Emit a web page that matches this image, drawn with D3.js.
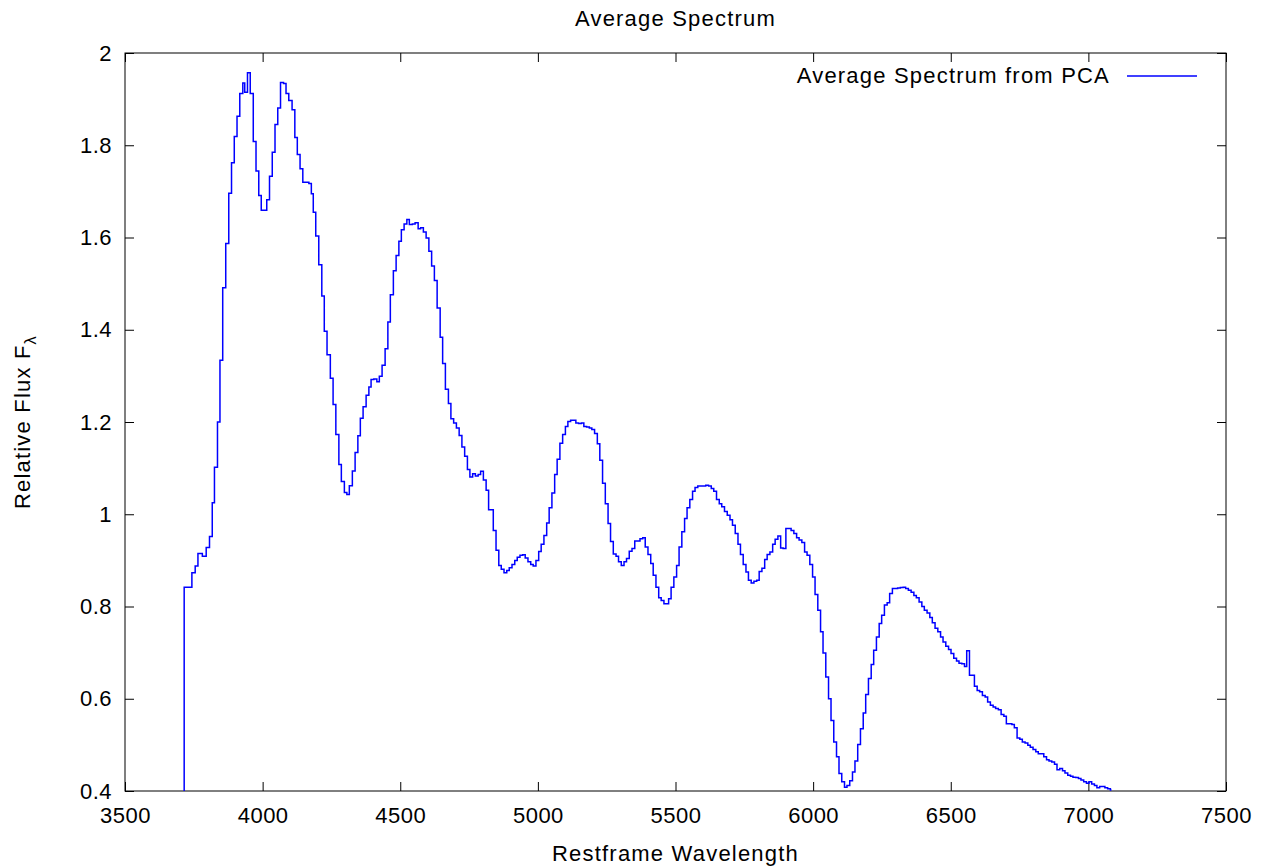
<!DOCTYPE html>
<html>
<head>
<meta charset="utf-8">
<script src="https://cdn.jsdelivr.net/npm/d3@7"></script>
<style>
  body { margin: 0; background: #fff; }
  text { font-family: "Liberation Sans", Arial, sans-serif; fill: #000; }
</style>
</head>
<body>
<script>
// bin start wavelengths (Angstrom)
var wavelength = [3715,3743,3755,3765,3781,3795,3807,3817,3825,3836,3845,3855,3866,3877,3887,3897,3907,3917,3928,3935,
  3945,3955,3966,3976,3986,3995,4015,4025,4035,4045,4055,4065,4076,4085,4095,4107,4117,4126,4136,4146,
  4168,4177,4184,4193,4204,4215,4224,4234,4246,4256,4266,4277,4286,4297,4306,4315,4326,4336,4346,4355,
  4365,4376,4386,4394,4404,4415,4424,4434,4445,4455,4464,4475,4485,4495,4504,4514,4524,4533,4544,4554,
  4565,4574,4584,4594,4604,4614,4624,4634,4645,4654,4664,4675,4684,4694,4704,4714,4724,4734,4744,4753,
  4763,4773,4783,4792,4802,4812,4821,4838,4848,4858,4867,4877,4887,4896,4906,4916,4925,4935,4945,4954,
  4964,4974,4983,4993,5003,5012,5022,5032,5041,5051,5061,5070,5080,5090,5100,5109,5119,5128,5138,5148,
  5158,5167,5177,5187,5196,5206,5216,5225,5235,5245,5255,5264,5274,5284,5293,5303,5313,5322,5332,5342,
  5352,5361,5371,5381,5390,5400,5410,5419,5429,5439,5448,5458,5475,5484,5494,5504,5513,5523,5533,5542,
  5552,5562,5571,5581,5591,5601,5610,5620,5630,5639,5649,5659,5668,5678,5688,5698,5707,5717,5727,5736,
  5746,5756,5765,5775,5785,5795,5804,5814,5824,5833,5843,5853,5862,5872,5882,5891,5901,5911,5920,5930,
  5940,5949,5959,5969,5978,5988,5998,6007,6017,6027,6036,6046,6056,6065,6075,6085,6094,6104,6114,6123,
  6133,6143,6152,6162,6172,6182,6191,6201,6211,6220,6230,6240,6249,6259,6269,6278,6288,6298,6307,6317,
  6327,6336,6346,6356,6366,6375,6385,6395,6404,6414,6424,6433,6443,6453,6463,6472,6482,6492,6501,6511,
  6521,6530,6540,6550,6558,6568,6578,6586,6596,6605,6615,6625,6634,6644,6654,6663,6673,6683,6693,6702,
  6712,6722,6731,6741,6751,6760,6770,6780,6789,6799,6809,6818,6828,6838,6848,6857,6867,6877,6886,6896,
  6906,6915,6925,6935,6944,6954,6964,6973,6983,6993,7002,7012,7022,7031,7041,7051,7060,7070,7080];
var lastEdge = 7084;

// relative flux for each bin
var flux = [0.842,0.873,0.888,0.915,0.909,0.928,0.952,1.025,1.102,1.200,1.334,1.491,1.587,1.696,1.762,1.819,1.863,1.912,1.935,1.915,
  1.957,1.912,1.808,1.744,1.691,1.659,1.682,1.733,1.785,1.845,1.881,1.936,1.934,1.912,1.897,1.877,1.817,1.780,1.749,1.720,
  1.717,1.695,1.655,1.603,1.541,1.473,1.397,1.346,1.295,1.238,1.173,1.108,1.071,1.047,1.043,1.062,1.094,1.134,1.170,1.208,
  1.233,1.258,1.276,1.292,1.293,1.287,1.299,1.323,1.359,1.417,1.476,1.528,1.561,1.592,1.617,1.629,1.639,1.628,1.629,1.632,
  1.619,1.621,1.612,1.599,1.570,1.538,1.507,1.447,1.384,1.327,1.271,1.240,1.207,1.198,1.187,1.171,1.146,1.126,1.097,1.081,
  1.088,1.083,1.086,1.093,1.074,1.052,1.010,0.965,0.922,0.889,0.881,0.873,0.878,0.884,0.891,0.900,0.907,0.911,0.912,0.905,
  0.897,0.891,0.888,0.900,0.919,0.935,0.954,0.981,1.014,1.046,1.086,1.119,1.154,1.173,1.190,1.201,1.204,1.204,1.198,1.197,
  1.198,1.190,1.189,1.187,1.184,1.175,1.153,1.117,1.067,1.023,0.980,0.941,0.914,0.909,0.897,0.889,0.897,0.904,0.920,0.926,
  0.942,0.942,0.947,0.949,0.929,0.913,0.893,0.868,0.842,0.819,0.813,0.806,0.817,0.842,0.864,0.889,0.929,0.962,0.991,1.014,
  1.032,1.050,1.058,1.061,1.061,1.061,1.063,1.061,1.056,1.050,1.032,1.023,1.016,1.006,0.998,0.988,0.976,0.958,0.935,0.913,
  0.891,0.875,0.857,0.851,0.855,0.857,0.876,0.883,0.902,0.913,0.918,0.935,0.946,0.953,0.927,0.926,0.969,0.969,0.965,0.958,
  0.949,0.944,0.939,0.918,0.911,0.891,0.864,0.826,0.792,0.745,0.699,0.647,0.600,0.553,0.506,0.474,0.438,0.420,0.408,0.412,
  0.422,0.441,0.465,0.501,0.535,0.569,0.609,0.644,0.674,0.705,0.734,0.763,0.781,0.803,0.808,0.828,0.839,0.839,0.840,0.841,
  0.842,0.839,0.835,0.831,0.824,0.819,0.810,0.800,0.792,0.786,0.776,0.765,0.753,0.745,0.734,0.723,0.714,0.707,0.698,0.688,
  0.682,0.677,0.676,0.670,0.704,0.651,0.651,0.627,0.618,0.615,0.607,0.604,0.593,0.586,0.582,0.579,0.576,0.566,0.562,0.546,
  0.546,0.544,0.537,0.515,0.512,0.506,0.504,0.499,0.495,0.490,0.485,0.481,0.481,0.474,0.468,0.465,0.463,0.458,0.446,0.449,
  0.444,0.439,0.434,0.432,0.430,0.429,0.427,0.424,0.420,0.417,0.420,0.415,0.412,0.407,0.410,0.410,0.407,0.405,0.402];

var xTicks = [3500, 4000, 4500, 5000, 5500, 6000, 6500, 7000, 7500];
var yTicks = [0.4, 0.6, 0.8, 1, 1.2, 1.4, 1.6, 1.8, 2];

function drawSpectrum() {
  var w = 1273, h = 867;
  var margin = { top: 53, right: 47, bottom: 76, left: 125 };
  var width = w - margin.left - margin.right,
      height = h - margin.top - margin.bottom;
  var fontSize = 22;
  var spacing = 1.2; // labels in the reference are a bit wider than plain Arial

  var svg = d3.select("body").append("svg")
    .attr("width", w)
    .attr("height", h);

  var g = svg.append("g")
    .attr("transform", "translate(" + margin.left + "," + margin.top + ")");

  var x = d3.scaleLinear().domain([3500, 7500]).range([0, width]);
  var y = d3.scaleLinear().domain([0.4, 2]).range([height, 0]);

  // ticks point inward on all four sides, like gnuplot
  g.append("g")
    .attr("transform", "translate(0," + height + ")")
    .call(d3.axisBottom(x).tickValues(xTicks).tickSizeInner(-9).tickSizeOuter(0).tickPadding(16).tickFormat(d3.format("d")))
    .call(function(a) { a.select(".domain").remove(); });
  g.append("g")
    .call(d3.axisTop(x).tickValues(xTicks).tickSizeInner(-9).tickSizeOuter(0).tickFormat(""))
    .call(function(a) { a.select(".domain").remove(); });
  g.append("g")
    .call(d3.axisLeft(y).tickValues(yTicks).tickSizeInner(-9).tickSizeOuter(0).tickPadding(13).tickFormat(d3.format("~g")))
    .call(function(a) { a.select(".domain").remove(); });
  g.append("g")
    .attr("transform", "translate(" + width + ",0)")
    .call(d3.axisRight(y).tickValues(yTicks).tickSizeInner(-9).tickSizeOuter(0).tickFormat(""))
    .call(function(a) { a.select(".domain").remove(); });

  g.selectAll(".tick line").attr("stroke", "#000").attr("stroke-width", 1);
  g.selectAll(".tick text")
    .attr("font-family", "Liberation Sans, Arial, sans-serif")
    .attr("font-size", fontSize)
    .attr("letter-spacing", 0.5);

  // frame
  g.append("rect")
    .attr("width", width)
    .attr("height", height)
    .attr("fill", "none")
    .attr("stroke", "#000")
    .attr("stroke-width", 1);

  // step curve, starting from the bottom of the plot
  var pts = [[wavelength[0], y.domain()[0] - 0.1]];
  wavelength.forEach(function(d, i) { pts.push([d, flux[i]]); });
  pts.push([lastEdge, flux[flux.length - 1]]);

  g.append("clipPath").attr("id", "clip")
    .append("rect").attr("width", width).attr("height", height);

  var line = d3.line()
    .x(function(d) { return x(d[0]); })
    .y(function(d) { return y(d[1]); })
    .curve(d3.curveStepAfter);

  g.append("path")
    .datum(pts)
    .attr("clip-path", "url(#clip)")
    .attr("d", line)
    .attr("fill", "none")
    .attr("stroke", "#0000ff")
    .attr("stroke-width", 1.5);

  // title
  svg.append("text")
    .attr("x", margin.left + width / 2)
    .attr("y", 26)
    .attr("text-anchor", "middle")
    .attr("font-size", fontSize)
    .attr("letter-spacing", spacing)
    .text("Average Spectrum");

  // axis labels
  svg.append("text")
    .attr("x", margin.left + width / 2)
    .attr("y", 861)
    .attr("text-anchor", "middle")
    .attr("font-size", fontSize)
    .attr("letter-spacing", spacing)
    .text("Restframe Wavelength");

  var yl = svg.append("text")
    .attr("transform", "translate(30," + (margin.top + height / 2) + ") rotate(-90)")
    .attr("text-anchor", "middle")
    .attr("font-size", fontSize)
    .attr("letter-spacing", spacing);
  yl.append("tspan").text("Relative Flux F");
  yl.append("tspan").attr("dy", 6).attr("font-size", fontSize * 0.75).text("λ");

  // legend
  svg.append("text")
    .attr("x", 1110)
    .attr("y", 83)
    .attr("text-anchor", "end")
    .attr("font-size", fontSize)
    .attr("letter-spacing", spacing)
    .text("Average Spectrum from PCA");
  svg.append("line")
    .attr("x1", 1127).attr("x2", 1197)
    .attr("y1", 76).attr("y2", 76)
    .attr("stroke", "#0000ff")
    .attr("stroke-width", 1.5);
}

window.onload = function() {
  drawSpectrum();
};
</script>
</body>
</html>
